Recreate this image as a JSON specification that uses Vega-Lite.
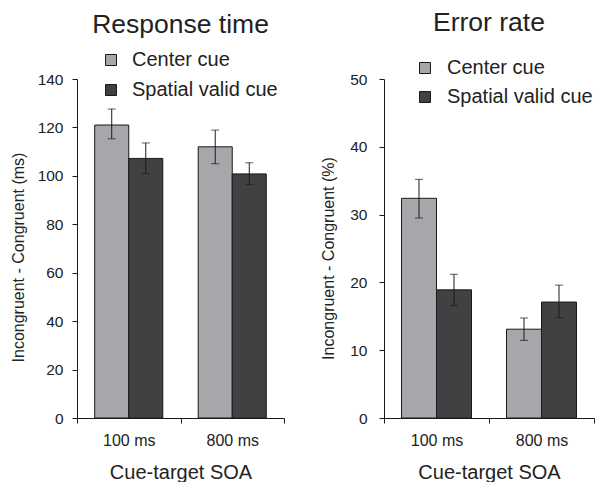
{
  "$schema": "https://vega.github.io/schema/vega-lite/v6.json",
  "padding": {"left": 10, "top": 9, "right": 0, "bottom": 0},
  "config": {
    "font": "Liberation Sans",
    "view": {"stroke": null},
    "axis": {"grid": false, "domainColor": "#1a1a1a", "tickColor": "#1a1a1a", "labelColor": "#222", "titleColor": "#222", "labelFontSize": 15.5, "titleFontWeight": "normal", "tickSize": 5, "labelFont": "Liberation Sans", "titleFont": "Liberation Sans"},
    "legend": {"labelFont": "Liberation Sans", "labelColor": "#222", "padding": 0},
    "title": {"font": "Liberation Sans", "fontSize": 26.5, "fontWeight": "normal", "color": "#222"}
  },
  "data": {"values": [
    {"panel": "rt", "soa": "100 ms", "cue": "Center cue", "value": 121, "lo": 115.3, "hi": 127.6},
    {"panel": "rt", "soa": "100 ms", "cue": "Spatial valid cue", "value": 107.2, "lo": 101, "hi": 113.6},
    {"panel": "rt", "soa": "800 ms", "cue": "Center cue", "value": 112, "lo": 105, "hi": 118.9},
    {"panel": "rt", "soa": "800 ms", "cue": "Spatial valid cue", "value": 100.8, "lo": 96.4, "hi": 105.4},
    {"panel": "er", "soa": "100 ms", "cue": "Center cue", "value": 32.4, "lo": 29.5, "hi": 35.2},
    {"panel": "er", "soa": "100 ms", "cue": "Spatial valid cue", "value": 18.9, "lo": 16.6, "hi": 21.2},
    {"panel": "er", "soa": "800 ms", "cue": "Center cue", "value": 13.1, "lo": 11.45, "hi": 14.75},
    {"panel": "er", "soa": "800 ms", "cue": "Spatial valid cue", "value": 17.1, "lo": 14.75, "hi": 19.6}
  ]},
  "spacing": 35,
  "resolve": {"scale": {"x": "independent", "y": "independent", "color": "independent", "xOffset": "independent"}, "legend": {"color": "independent"}},
  "hconcat": [
    {
      "title": {"text": "Response time", "offset": 12},
      "width": 207,
      "height": 339,
      "transform": [{"filter": "datum.panel === 'rt'"}],
      "encoding": {
        "x": {"field": "soa", "type": "nominal", "sort": ["100 ms", "800 ms"], "scale": {"paddingInner": 0, "paddingOuter": 0},
          "axis": {"title": "Cue-target SOA", "titleFontSize": 20, "labelFontSize": 16, "labelAngle": 0, "tickBand": "extent", "labelPadding": 9, "titlePadding": 14}},
        "xOffset": {"field": "cue", "type": "nominal", "sort": ["Center cue", "Spatial valid cue"], "scale": {"paddingInner": 0, "paddingOuter": 0.52}}
      },
      "layer": [
        {
          "mark": {"type": "bar", "stroke": "#1a1a1a", "strokeWidth": 1},
          "encoding": {
            "y": {"field": "value", "type": "quantitative", "title": "Incongruent - Congruent (ms)", "scale": {"domain": [0, 140], "nice": false},
              "axis": {"values": [0, 20, 40, 60, 80, 100, 120, 140], "titleFontSize": 16, "labelPadding": 9, "titlePadding": 11, "titleY": 178}},
            "color": {"field": "cue", "type": "nominal", "scale": {"domain": ["Center cue", "Spatial valid cue"], "range": ["#a6a7aa", "#404143"]},
              "legend": {"title": null, "orient": "none", "legendX": 24, "legendY": -29, "labelFontSize": 20, "symbolType": "square", "symbolSize": 121, "rowPadding": 10, "labelOffset": 11, "symbolStrokeColor": "#1a1a1a", "symbolStrokeWidth": 1, "symbolOpacity": 1}}
          }
        },
        {
          "mark": {"type": "rule", "color": "#1a1a1a", "strokeWidth": 1},
          "encoding": {"y": {"field": "lo", "type": "quantitative", "title": "Incongruent - Congruent (ms)"}, "y2": {"field": "hi"}}
        },
        {
          "mark": {"type": "tick", "color": "#1a1a1a", "size": 8, "thickness": 1},
          "encoding": {"y": {"field": "lo", "type": "quantitative", "title": "Incongruent - Congruent (ms)"}}
        },
        {
          "mark": {"type": "tick", "color": "#1a1a1a", "size": 8, "thickness": 1},
          "encoding": {"y": {"field": "hi", "type": "quantitative", "title": "Incongruent - Congruent (ms)"}}
        }
      ]
    },
    {
      "title": {"text": "Error rate", "offset": 22},
      "width": 210,
      "height": 339,
      "transform": [{"filter": "datum.panel === 'er'"}],
      "encoding": {
        "x": {"field": "soa", "type": "nominal", "sort": ["100 ms", "800 ms"], "scale": {"paddingInner": 0, "paddingOuter": 0},
          "axis": {"title": "Cue-target SOA", "titleFontSize": 20, "labelFontSize": 16, "labelAngle": 0, "tickBand": "extent", "labelPadding": 9, "titlePadding": 14}},
        "xOffset": {"field": "cue", "type": "nominal", "sort": ["Center cue", "Spatial valid cue"], "scale": {"paddingInner": 0, "paddingOuter": 0.5}}
      },
      "layer": [
        {
          "mark": {"type": "bar", "stroke": "#1a1a1a", "strokeWidth": 1},
          "encoding": {
            "y": {"field": "value", "type": "quantitative", "title": "Incongruent - Congruent (%)", "scale": {"domain": [0, 50], "nice": false},
              "axis": {"values": [0, 10, 20, 30, 40, 50], "titleFontSize": 16, "labelPadding": 12, "titlePadding": 13, "titleY": 179}},
            "color": {"field": "cue", "type": "nominal", "scale": {"domain": ["Center cue", "Spatial valid cue"], "range": ["#a6a7aa", "#404143"]},
              "legend": {"title": null, "orient": "none", "legendX": 31, "legendY": -21, "labelFontSize": 20, "symbolType": "square", "symbolSize": 121, "rowPadding": 9, "labelOffset": 12, "symbolStrokeColor": "#1a1a1a", "symbolStrokeWidth": 1, "symbolOpacity": 1}}
          }
        },
        {
          "mark": {"type": "rule", "color": "#1a1a1a", "strokeWidth": 1},
          "encoding": {"y": {"field": "lo", "type": "quantitative", "title": "Incongruent - Congruent (%)"}, "y2": {"field": "hi"}}
        },
        {
          "mark": {"type": "tick", "color": "#1a1a1a", "size": 8, "thickness": 1},
          "encoding": {"y": {"field": "lo", "type": "quantitative", "title": "Incongruent - Congruent (%)"}}
        },
        {
          "mark": {"type": "tick", "color": "#1a1a1a", "size": 8, "thickness": 1},
          "encoding": {"y": {"field": "hi", "type": "quantitative", "title": "Incongruent - Congruent (%)"}}
        }
      ]
    }
  ]
}
